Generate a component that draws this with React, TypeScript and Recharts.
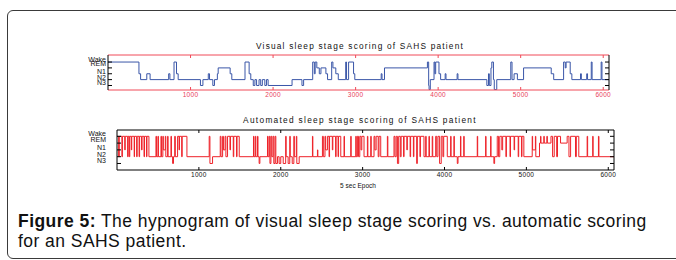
import React from 'react';
import { LineChart, Line, XAxis, YAxis } from 'recharts';

// ---------- data ----------
const epochTicks = [1000, 2000, 3000, 4000, 5000, 6000];
const stageValues = [0, 1, 2, 3, 4];
const stageNames = ['N3', 'N2', 'N1', 'REM', 'Wake'];
const epochMax = 6070;

// Visual scoring (epoch where a stage starts, stage code: 4 Wake, 3 REM, 2 N1, 1 N2, 0 N3)
const visualEpochs = [
  0, 375, 395, 470, 510, 735, 750, 800, 830, 850,
  1120, 1150, 1215, 1230, 1270, 1290, 1325, 1335, 1480, 1500,
  1660, 1710, 1730, 1760, 1780, 1800, 1830, 1850, 1870, 1900,
  1920, 1940, 2230, 2350, 2370, 2480, 2500, 2510, 2530, 2560,
  2580, 2640, 2660, 2710, 2725, 2760, 2790, 2880, 2890, 2915,
  2975, 2990, 3310, 3320, 3350, 3870, 3885, 3890, 3905, 3950,
  3960, 3970, 4010, 4030, 4085, 4095, 4230, 4240, 4590, 4610,
  4620, 4640, 4650, 4670, 4680, 4710, 4880, 4895, 4920, 4960,
  5035, 5370, 5400, 5520, 5540, 5550, 5600, 5620, 5725, 5735,
  5800, 5810, 5855, 5865, 5975, 5985, 6070,
];
const visualStages = [
  4, 2, 1, 2, 1, 2, 1, 4, 2, 1,
  0, 1, 2, 1, 0, 1, 2, 3, 2, 1,
  4, 2, 1, 0, 1, 0, 1, 0, 1, 0,
  1, 0, 1, 0, 1, 4, 2, 4, 3, 2,
  3, 2, 1, 4, 3, 2, 1, 4, 1, 4,
  2, 1, 2, 1, 3, 4, 0, -0.7, 1, 4,
  2, 4, 2, 1, 2, 1, 2, 1, 0, 2,
  0, 3, 4, 1, -0.7, 1, 4, 1, 2, 1,
  3, 2, 1, 4, 3, 4, 2, 1, 2, 1,
  2, 1, 4, 1, 4, 1, 1,
];

// Automated scoring
const autoEpochs = [
  0, 20, 28, 60, 66, 95, 100, 130, 136, 150,
  156, 175, 180, 210, 214, 240, 246, 270, 276, 300,
  306, 330, 336, 360, 366, 390, 476, 482, 500, 506,
  537, 543, 560, 566, 590, 596, 618, 624, 659, 665,
  679, 690, 705, 712, 740, 758, 763, 790, 796, 854,
  1126, 1135, 1167, 1261, 1270, 1290, 1300, 1320, 1330, 1350,
  1380, 1386, 1420, 1426, 1460, 1466, 1493, 1667, 1673, 1690,
  1696, 1716, 1722, 1736, 1745, 1838, 1845, 1860, 1868, 1880,
  1890, 1905, 1915, 1930, 1940, 1960, 1980, 2000, 2030, 2060,
  2066, 2090, 2110, 2116, 2140, 2160, 2166, 2190, 2196, 2225,
  2387, 2392, 2448, 2453, 2509, 2520, 2540, 2548, 2570, 2590,
  2596, 2630, 2636, 2670, 2676, 2700, 2706, 2733, 2773, 2778,
  2855, 2860, 2916, 2922, 2936, 2950, 2965, 2980, 2990, 3017,
  3058, 3064, 3099, 3105, 3139, 3150, 3165, 3190, 3200, 3221,
  3302, 3308, 3383, 3395, 3410, 3425, 3440, 3460, 3470, 3500,
  3506, 3540, 3546, 3580, 3586, 3620, 3626, 3660, 3668, 3700,
  3706, 3749, 3770, 3776, 3810, 3816, 3850, 3856, 3892, 3905,
  3920, 3940, 3960, 3980, 3990, 4034, 4075, 4080, 4115, 4120,
  4156, 4165, 4195, 4200, 4235, 4240, 4400, 4405, 4502, 4507,
  4563, 4568, 4603, 4612, 4644, 4660, 4675, 4700, 4710, 4750,
  4756, 4800, 4806, 4850, 4856, 4900, 4906, 4940, 4946, 4969,
  5071, 5076, 5110, 5115, 5160, 5173, 5178, 5213, 5218, 5250,
  5256, 5300, 5320, 5340, 5370, 5380, 5417, 5498, 5520, 5540,
  5600, 5610, 5640, 5742, 5748, 5810, 5815, 5880, 5886, 6070,
];
const autoStages = [
  4, 1, 4, 1, 4, 2, 4, 1, 4, 1,
  4, 2, 4, 1, 4, 1, 4, 1, 4, 2,
  4, 1, 4, 1, 4, 1, 4, 1, 4, 1,
  4, 1, 4, 2, 4, 1, 4, 1, 4, 1,
  0, 1, 4, 1, 4, 2, 4, 1, 4, 1,
  4, 0, 1, 4, 1, 4, 2, 4, 1, 4,
  2, 4, 1, 4, 1, 4, 1, 4, 1, 4,
  1, 4, 1, 0, 1, 4, 1, 4, 0, 4,
  1, 4, 0, 4, 0, 1, 0, 1, 0, 4,
  1, 0, 4, 1, 0, 4, 1, 4, 0, 1,
  4, 1, 2, 1, 4, 1, 4, 2, 4, 1,
  4, 2, 4, 1, 4, 1, 4, 1, 4, 1,
  4, 1, 4, 1, 4, 1, 4, 2, 4, 1,
  4, 1, 4, 1, 4, 2, 4, 1, 4, 1,
  4, 1, 4, 1, 4, 0, 4, 1, 4, 1,
  4, 2, 4, 1, 4, 1, 4, 0, 4, 1,
  4, 1, 4, 1, 4, 1, 4, 1, 4, 1,
  4, 0, 4, 1, 4, 1, 4, 1, 4, 1,
  0, 1, 4, 1, 4, 1, 4, 1, 4, 1,
  4, 1, 0, 1, 4, 1, 4, 2, 4, 1,
  4, 1, 4, 2, 4, 1, 4, 1, 4, 1,
  4, 2, 4, 1, 3, 4, 3, 4, 3, 4,
  3, 4, 1, 4, 1, 4, 3, 4, 1, 4,
  1, 4, 1, 4, 1, 4, 1, 4, 1, 1,
];

const visualData = visualEpochs.map((e, i) => ({ epoch: e, stage: visualStages[i] }));
const autoData = autoEpochs.map((e, i) => ({ epoch: e, stage: autoStages[i] }));

// ---------- styles ----------
const FONT = '"Liberation Sans", Arial, Helvetica, sans-serif';
const BLUE = '#3a56a8';
const RED = '#ee2229';
const BORDER_RED = '#f04a58';
const LABEL_RED = '#e8405a';

function makeLeftTick(gap: number) {
  return (props: any) => {
    const { x, y, payload } = props;
    const v = payload.value as number;
    const shift = v === 3 ? -4 : -2.5;
    return (
      <g>
        <line x1={x} y1={y} x2={x + 4} y2={y} stroke="#000" strokeWidth={1} />
        <text
          x={x - gap}
          y={y + shift}
          textAnchor="end"
          dominantBaseline="central"
          fontSize={7}
          fontFamily={FONT}
          fill="#111"
        >
          {stageNames[v]}
        </text>
      </g>
    );
  };
}

const rightTick = (props: any) => (
  <line x1={props.x - 4} y1={props.y} x2={props.x} y2={props.y} stroke="#000" strokeWidth={1} />
);

function makeBottomTick(color: string, tickColor: string) {
  return (props: any) => {
    const { x, y, payload } = props;
    return (
      <g>
        <line x1={x} y1={y} x2={x} y2={y - 3} stroke={tickColor} strokeWidth={1} />
        <text
          x={x}
          y={y + 2.5}
          textAnchor="middle"
          dominantBaseline="hanging"
          fontSize={6.5}
          letterSpacing={0.3}
          fontFamily={FONT}
          fill={color}
        >
          {payload.value}
        </text>
      </g>
    );
  };
}

function makeTopTick(tickColor: string) {
  return (props: any) => (
    <line x1={props.x} y1={props.y} x2={props.x} y2={props.y + 3} stroke={tickColor} strokeWidth={1} />
  );
}

interface PanelProps {
  data: { epoch: number; stage: number }[];
  top: number;
  height: number;
  margin: { top: number; right: number; bottom: number; left: number };
  yDomain: [number, number];
  lineColor: string;
  hColor: string;
  labelColor: string;
  labelGap: number;
  xAxisHeight: number;
}

function Panel(p: PanelProps) {
  return (
    <div style={{ position: 'absolute', left: 0, top: p.top }}>
      <LineChart width={676} height={p.height} data={p.data} margin={p.margin}>
        <XAxis
          dataKey="epoch"
          type="number"
          domain={[0, epochMax]}
          allowDataOverflow
          ticks={epochTicks}
          interval={0}
          height={p.xAxisHeight}
          tickSize={0}
          tickMargin={0}
          tickLine={false}
          axisLine={{ stroke: p.hColor, strokeWidth: 1 }}
          tick={makeBottomTick(p.labelColor, p.hColor)}
        />
        <XAxis
          xAxisId="top"
          orientation="top"
          dataKey="epoch"
          type="number"
          domain={[0, epochMax]}
          allowDataOverflow
          ticks={epochTicks}
          interval={0}
          height={1}
          tickSize={0}
          tickMargin={0}
          tickLine={false}
          axisLine={{ stroke: p.hColor, strokeWidth: 1 }}
          tick={makeTopTick(p.hColor)}
        />
        <YAxis
          yAxisId="left"
          type="number"
          domain={p.yDomain}
          allowDataOverflow
          ticks={stageValues}
          interval={0}
          width={40}
          tickSize={0}
          tickMargin={0}
          tickLine={false}
          axisLine={{ stroke: '#000', strokeWidth: 1 }}
          tick={makeLeftTick(p.labelGap)}
        />
        <YAxis
          yAxisId="right"
          orientation="right"
          type="number"
          domain={p.yDomain}
          allowDataOverflow
          ticks={stageValues}
          interval={0}
          width={20}
          tickSize={0}
          tickMargin={0}
          tickLine={false}
          axisLine={{ stroke: '#000', strokeWidth: 1 }}
          tick={rightTick}
        />
        <Line
          yAxisId="left"
          type="stepAfter"
          dataKey="stage"
          stroke={p.lineColor}
          strokeWidth={1}
          dot={false}
          activeDot={false}
          isAnimationActive={false}
        />
      </LineChart>
    </div>
  );
}

export default function App() {
  return (
    <div
      style={{
        position: 'absolute',
        left: 0,
        top: 0,
        width: 676,
        height: 260,
        overflow: 'hidden',
        background: '#fff',
        fontFamily: FONT,
      }}
    >
      <div
        style={{
          position: 'absolute',
          left: 7,
          top: 10,
          width: 720,
          height: 247,
          border: '1px solid #3a3a3a',
          borderRadius: 6,
        }}
      />
      <div
        style={{
          position: 'absolute',
          left: 160,
          width: 400,
          top: 41,
          textAlign: 'center',
          fontSize: 8.3,
          letterSpacing: 1.2,
          color: '#111',
          lineHeight: '10px',
        }}
      >
        Visual sleep stage scoring of SAHS patient
      </div>
      <Panel
        data={visualData}
        top={0}
        height={110}
        margin={{ top: 54, right: 47, bottom: 5, left: 68 }}
        yDomain={[-0.77, 5.2]}
        lineColor={BLUE}
        hColor={BORDER_RED}
        labelColor={LABEL_RED}
        labelGap={2}
        xAxisHeight={15}
      />
      <div
        style={{
          position: 'absolute',
          left: 160,
          width: 400,
          top: 115,
          textAlign: 'center',
          fontSize: 8.3,
          letterSpacing: 1.3,
          color: '#111',
          lineHeight: '10px',
        }}
      >
        Automated sleep stage scoring of SAHS patient
      </div>
      <Panel
        data={autoData}
        top={100}
        height={95}
        margin={{ top: 29, right: 42, bottom: 5, left: 77 }}
        yDomain={[-0.96, 4.93]}
        lineColor={RED}
        hColor="#000"
        labelColor="#111"
        labelGap={11}
        xAxisHeight={20}
      />
      <div
        style={{
          position: 'absolute',
          left: 258,
          width: 200,
          top: 182,
          textAlign: 'center',
          fontSize: 6.5,
          color: '#111',
          lineHeight: '8px',
        }}
      >
        5 sec Epoch
      </div>
      <div
        style={{
          position: 'absolute',
          left: 18,
          top: 211,
          fontSize: 17.5,
          letterSpacing: 0.45,
          lineHeight: '20px',
          color: '#111',
          whiteSpace: 'nowrap',
        }}
      >
        <b>Figure 5:</b> The hypnogram of visual sleep stage scoring vs. automatic scoring
        <br />
        for an SAHS patient.
      </div>
    </div>
  );
}
